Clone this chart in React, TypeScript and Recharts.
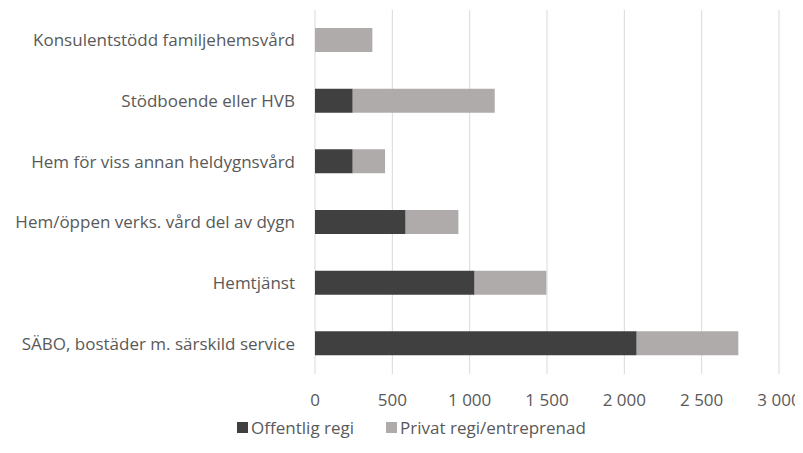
import { Bar, BarChart, CartesianGrid, Legend, XAxis, YAxis } from 'recharts'

const categories = [
  'Konsulentstödd familjehemsvård',
  'Stödboende eller HVB',
  'Hem för viss annan heldygnsvård',
  'Hem/öppen verks. vård del av dygn',
  'Hemtjänst',
  'SÄBO, bostäder m. särskild service',
]
const offentlig = [0, 244, 244, 586, 1032, 2080]
const privat = [371, 918, 209, 341, 464, 657]
const xTicks = [0, 500, 1000, 1500, 2000, 2500, 3000]

const data = categories.map((name, i) => ({
  name,
  offentlig: offentlig[i],
  privat: privat[i],
}))

const FONT = '"Open Sans", sans-serif'
const TEXT = '#595959'
const DARK = '#404040'
const LIGHT = '#AFABAB'
const SIZE = 17

const fmt = (v: number) => String(v).replace(/\B(?=(\d{3})+(?!\d))/g, ' ')

function LegendBox() {
  const items = [
    { label: 'Offentlig regi', color: DARK },
    { label: 'Privat regi/entreprenad', color: LIGHT },
  ]
  return (
    <div
      style={{
        display: 'flex',
        justifyContent: 'center',
        alignItems: 'center',
        gap: 32,
        height: 24,
        paddingLeft: 36,
        fontFamily: FONT,
        fontSize: SIZE,
        color: TEXT,
      }}
    >
      {items.map((it) => (
        <div key={it.label} style={{ display: 'flex', alignItems: 'center', gap: 3 }}>
          <span style={{ width: 11, height: 11, background: it.color, display: 'inline-block' }} />
          <span>{it.label}</span>
        </div>
      ))}
    </div>
  )
}

export default function App() {
  return (
    <div style={{ width: 795, height: 437, background: '#fff' }}>
      <BarChart
        width={795}
        height={437}
        data={data}
        layout="vertical"
        margin={{ top: 2, right: 24, left: 0, bottom: 6 }}
        barSize={24}
      >
        <CartesianGrid stroke="#d9d9d9" horizontal={false} />
        <XAxis
          type="number"
          domain={[0, 3000]}
          ticks={xTicks}
          tickFormatter={fmt}
          axisLine={false}
          tickLine={false}
          tickSize={0}
          tickMargin={20}
          height={41}
          interval={0}
          tick={{ fill: TEXT, fontSize: SIZE, fontFamily: FONT }}
        />
        <YAxis
          type="category"
          dataKey="name"
          width={307}
          axisLine={false}
          tickLine={false}
          tickSize={0}
          tickMargin={20}
          interval={0}
          tick={{ fill: TEXT, fontSize: SIZE, fontFamily: FONT }}
        />
        <Legend verticalAlign="bottom" content={<LegendBox />} />
        <Bar dataKey="offentlig" name="Offentlig regi" stackId="a" fill={DARK} isAnimationActive={false} />
        <Bar dataKey="privat" name="Privat regi/entreprenad" stackId="a" fill={LIGHT} isAnimationActive={false} />
      </BarChart>
    </div>
  )
}
